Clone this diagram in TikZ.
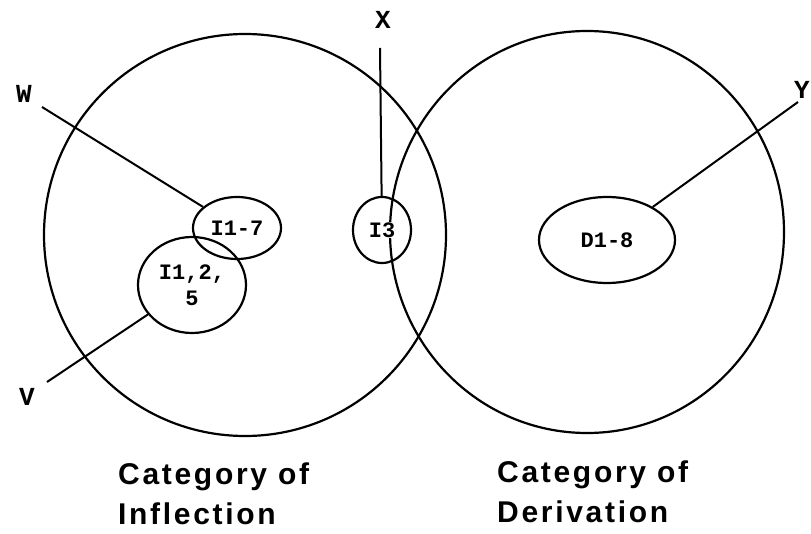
\documentclass[tikz,border=0pt]{standalone}
\usepackage{fontspec}
\newfontfamily\tagfont{Liberation Mono Bold}
\newfontfamily\capfont[LetterSpace=9]{Liberation Sans Bold}
\usepackage{tikz}
\usetikzlibrary{shapes.geometric}

\tikzset{
  region/.style={draw, ellipse, line width=2.2pt, inner sep=0pt},
  tag/.style={font=\tagfont\fontsize{22}{26}\selectfont, inner sep=1pt},
  letter/.style={font=\tagfont\fontsize{26}{28}\selectfont, inner sep=0pt},
  caption/.style={font=\capfont\fontsize{30}{40}\selectfont, align=left, anchor=north west, inner sep=0pt},
  wire/.style={line width=2pt}
}

\begin{document}
\begin{tikzpicture}[x=1pt, y=-1pt]
  \useasboundingbox (0,0) rectangle (811,534);
  % Big categories
  \node[region, minimum width=402pt, minimum height=402pt] (infl) at (245,235) {};
  \node[region, minimum width=394pt, minimum height=402pt] (deriv) at (587,232) {};
  % Small sets
  \node[region, minimum width=88pt, minimum height=62pt] (i17) at (237,228) {};
  \node[tag] at (i17) {I1-7};
  \node[region, minimum width=108pt, minimum height=96pt] (i125) at (192,285) {};
  \node[tag, align=center] at (i125) {I1,2,\\5};
  \node[region, minimum width=58pt, minimum height=66pt] (i3) at (382,230) {};
  \node[tag, fill=white] at (i3) {I3};
  \node[region, minimum width=136pt, minimum height=86pt] (d18) at (607,240) {};
  \node[tag] at (d18) {D1-8};
  % Pointer labels
  \node[letter] (w) at (24,94) {W};
  \node[letter] (v) at (27,397) {V};
  \node[letter] (x) at (383,20) {X};
  \node[letter] (y) at (802,90) {Y};
  \coordinate (wend) at (42,107);
  \coordinate (vend) at (47,382);
  \coordinate (xend) at (380,48);
  \coordinate (yend) at (798,102);
  \draw[wire] (wend) -- (i17);
  \draw[wire] (vend) -- (i125);
  \draw[wire] (xend) -- (i3);
  \draw[wire] (yend) -- (d18);
  % Captions
  \node[caption] (cinfl) at (118,463) {Category of\\Inflection};
  \node[caption] (cderiv) at (497,461) {Category of\\Derivation};
\end{tikzpicture}
\end{document}
